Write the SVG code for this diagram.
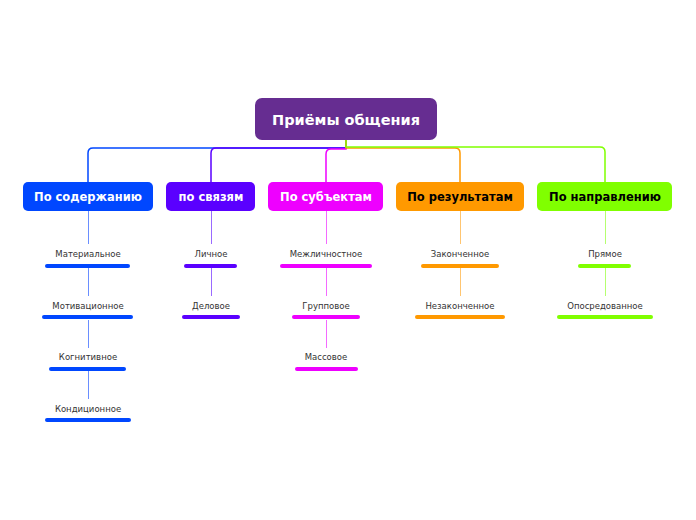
<svg xmlns="http://www.w3.org/2000/svg" width="696" height="520" viewBox="0 0 696 520">
<style>
.root{font-family:"DejaVu Sans",Verdana,sans-serif;font-weight:bold;font-size:14.5px;fill:#fff;text-anchor:middle}
.br{font-family:"DejaVu Sans",Verdana,sans-serif;font-weight:bold;font-size:11.5px;text-anchor:middle}
.sub{font-family:"DejaVu Sans",Verdana,sans-serif;font-size:8.5px;fill:#333;text-anchor:middle}
.bar{stroke-width:4;stroke-linecap:round;fill:none}
.c{fill:none;stroke-width:1.5}
.v{fill:none;stroke-width:1}
</style>
<rect width="696" height="520" fill="#fff"/>
<g id="connectors">
<path class="c" stroke="#0047ff" d="M346,140 V148 H93 Q88,148 88,153 V182"/>
<path class="c" stroke="#5a00ff" d="M346,140 V148 H216 Q211,148 211,153 V182"/>
<path class="c" stroke="#ee00ff" d="M346,140 V149 H331 Q326,149 326,154 V182"/>
<path class="c" stroke="#ff9900" d="M346,140 V148 H455 Q460,148 460,153 V182"/>
<path class="c" stroke="#80ff00" d="M346,140 V147 H600 Q605,147 605,152 V182"/>
<g stroke="#6a8eff" class="v">
<path d="M88.5,211 V244 M88.5,268 V296 M88.5,320 V348 M88.5,371 V399"/>
</g>
<g stroke="#9a6aff" class="v">
<path d="M211.5,211 V244 M211.5,268 V296"/>
</g>
<g stroke="#f36aff" class="v">
<path d="M326.5,211 V244 M326.5,268 V296 M326.5,320 V348"/>
</g>
<g stroke="#ffc570" class="v">
<path d="M460.5,211 V244 M460.5,268 V296"/>
</g>
<g stroke="#b5ff70" class="v">
<path d="M605.5,211 V244 M605.5,268 V296"/>
</g>
</g>
<g id="root">
<rect x="255" y="98" width="182" height="42" rx="7" fill="#662d91"/>
<text class="root" x="346" y="125">Приёмы общения</text>
</g>
<g id="b1">
<rect x="23" y="182" width="130" height="29" rx="5" fill="#0047ff"/>
<text class="br" x="88" y="201" fill="#fff">По содержанию</text>
</g>
<g id="b2">
<rect x="166" y="182" width="89" height="29" rx="5" fill="#5a00ff"/>
<text class="br" x="211" y="201" fill="#fff">по связям</text>
</g>
<g id="b3">
<rect x="268" y="182" width="115" height="29" rx="5" fill="#ee00ff"/>
<text class="br" x="326" y="201" fill="#fff">По субъектам</text>
</g>
<g id="b4">
<rect x="396" y="182" width="128" height="29" rx="5" fill="#ff9900"/>
<text class="br" x="460" y="201" fill="#000">По результатам</text>
</g>
<g id="b5">
<rect x="537" y="182" width="135" height="29" rx="5" fill="#80ff00"/>
<text class="br" x="605" y="201" fill="#000">По направлению</text>
</g>
<g id="s1a"><text class="sub" x="88" y="257">Материальное</text><path class="bar" stroke="#0047ff" d="M47,266 H128"/></g>
<g id="s1b"><text class="sub" x="88" y="309">Мотивационное</text><path class="bar" stroke="#0047ff" d="M44,317 H131"/></g>
<g id="s1c"><text class="sub" x="88" y="360">Когнитивное</text><path class="bar" stroke="#0047ff" d="M51,369 H124"/></g>
<g id="s1d"><text class="sub" x="88" y="412">Кондиционное</text><path class="bar" stroke="#0047ff" d="M47,420 H129"/></g>
<g id="s2a"><text class="sub" x="211" y="257">Личное</text><path class="bar" stroke="#5a00ff" d="M186,266 H235"/></g>
<g id="s2b"><text class="sub" x="211" y="309">Деловое</text><path class="bar" stroke="#5a00ff" d="M184,317 H238"/></g>
<g id="s3a"><text class="sub" x="326" y="257">Межличностное</text><path class="bar" stroke="#ee00ff" d="M282,266 H370"/></g>
<g id="s3b"><text class="sub" x="326" y="309">Групповое</text><path class="bar" stroke="#ee00ff" d="M294,317 H358"/></g>
<g id="s3c"><text class="sub" x="326" y="360">Массовое</text><path class="bar" stroke="#ee00ff" d="M297,369 H356"/></g>
<g id="s4a"><text class="sub" x="460" y="257">Законченное</text><path class="bar" stroke="#ff9900" d="M423,266 H497"/></g>
<g id="s4b"><text class="sub" x="460" y="309">Незаконченное</text><path class="bar" stroke="#ff9900" d="M417,317 H503"/></g>
<g id="s5a"><text class="sub" x="605" y="257">Прямое</text><path class="bar" stroke="#80ff00" d="M580,266 H629"/></g>
<g id="s5b"><text class="sub" x="605" y="309">Опосредованное</text><path class="bar" stroke="#80ff00" d="M559,317 H651"/></g>
</svg>
